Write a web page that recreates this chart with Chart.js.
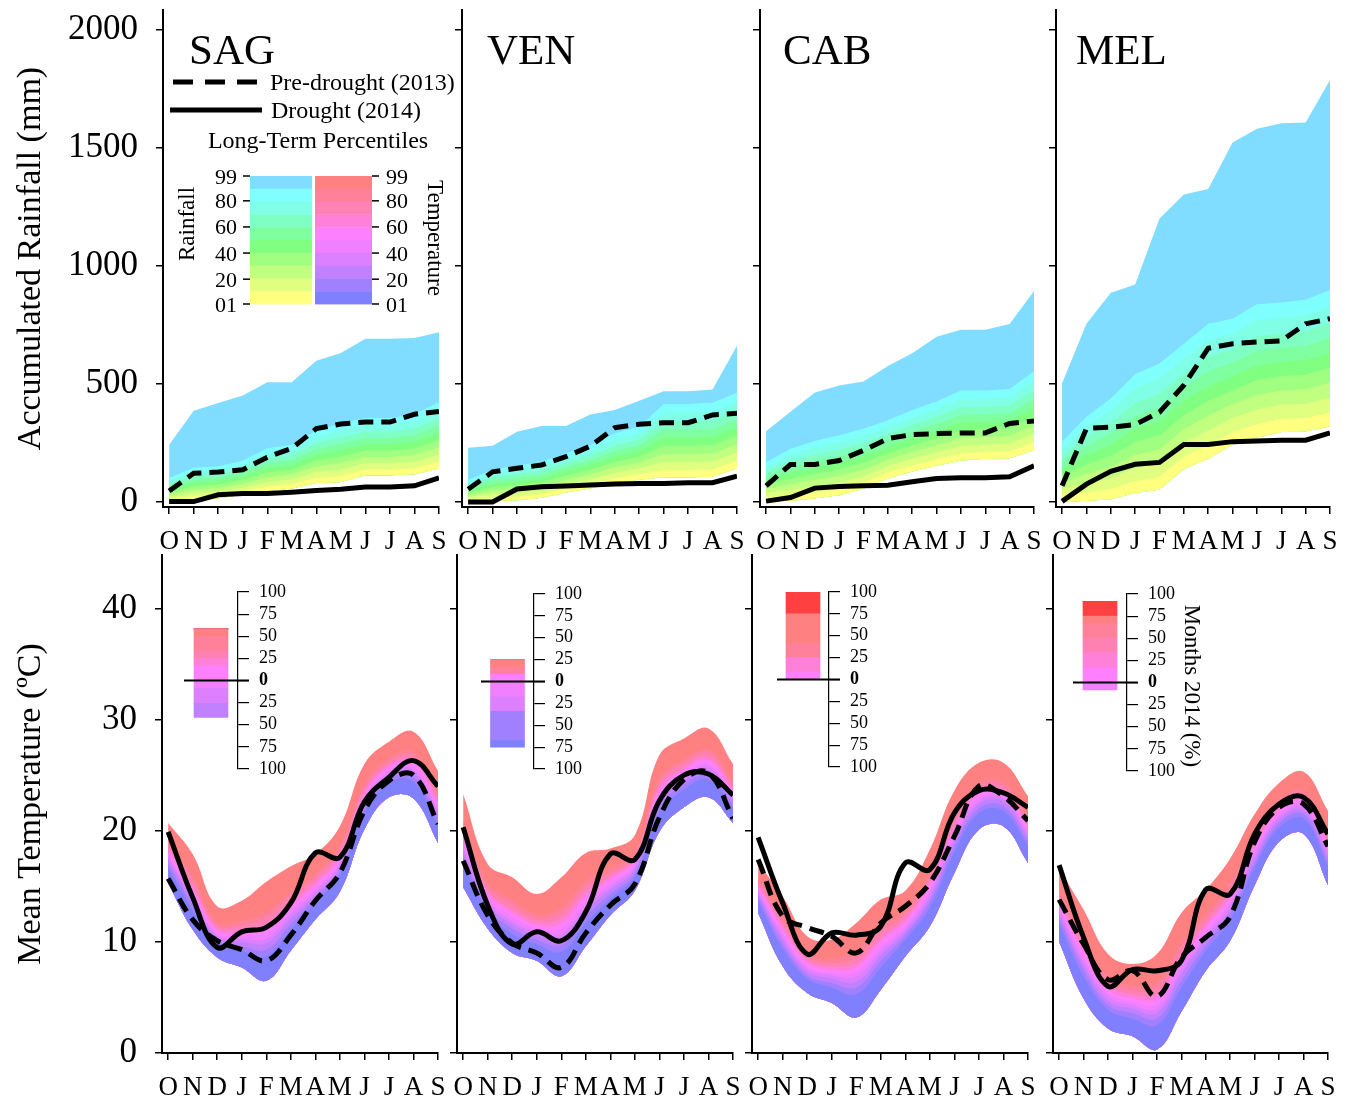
<!DOCTYPE html>
<html>
<head>
<meta charset="utf-8">
<script src="https://cdn.jsdelivr.net/npm/chart.js@4.4.1/dist/chart.umd.min.js"></script>
<style>
  body { margin: 0; background: #fff; width: 1351px; height: 1103px; position: relative; overflow: hidden; }
  canvas { position: absolute; }
  svg { position: absolute; left: 0; top: 0; pointer-events: none; }
</style>
</head>
<body>
<script>
// months of the hydrological year (Oct - Sep)
const months = ['O', 'N', 'D', 'J', 'F', 'M', 'A', 'M', 'J', 'J', 'A', 'S'];
const sites = ['SAG', 'VEN', 'CAB', 'MEL'];
const rainTicks = [0, 500, 1000, 1500, 2000];
const tempTicks = [0, 10, 20, 30, 40];
const pctTicks = ['99', '80', '60', '40', '20', '01'];
const pctTickValues = [99, 80, 60, 40, 20, 1];

// accumulated rainfall (mm) - percentile rows are p01, p10 ... p90, p99
const sagRain2013 = [47, 122, 127, 137, 190, 228, 311, 331, 339, 339, 372, 384];
const sagRain2014 = [2, 2, 31, 36, 36, 42, 49, 54, 64, 64, 69, 102];
const sagRainPct = [
  [0, 8, 16, 31, 47, 57, 81, 85, 114, 114, 118, 142],
  [10, 22, 30, 45, 65, 76, 103, 110, 138, 138, 143, 170],
  [21, 37, 45, 61, 85, 96, 128, 137, 165, 165, 171, 201],
  [33, 52, 60, 77, 105, 117, 152, 165, 191, 191, 199, 232],
  [44, 67, 74, 93, 125, 137, 176, 192, 218, 218, 227, 263],
  [55, 82, 89, 109, 145, 157, 201, 219, 245, 245, 255, 294],
  [66, 97, 104, 125, 165, 178, 225, 247, 271, 271, 283, 325],
  [78, 112, 119, 140, 185, 198, 250, 274, 298, 298, 311, 356],
  [90, 129, 136, 158, 206, 221, 276, 304, 327, 327, 342, 390],
  [102, 145, 152, 175, 228, 243, 303, 334, 356, 356, 372, 424],
  [243, 387, 420, 452, 508, 508, 599, 632, 692, 692, 695, 720]
];
const venRain2013 = [54, 128, 143, 157, 192, 237, 315, 330, 336, 336, 369, 376];
const venRain2014 = [0, 0, 55, 65, 68, 72, 76, 79, 79, 82, 82, 110];
const venRainPct = [
  [0, 5, 8, 18, 40, 58, 79, 96, 105, 105, 107, 143],
  [9, 18, 23, 33, 57, 76, 100, 118, 136, 136, 138, 175],
  [20, 33, 39, 50, 75, 96, 124, 143, 170, 170, 173, 210],
  [30, 48, 55, 67, 93, 117, 147, 167, 204, 204, 207, 245],
  [40, 62, 71, 84, 111, 137, 170, 192, 238, 238, 242, 281],
  [50, 77, 87, 101, 130, 157, 193, 216, 272, 272, 277, 316],
  [60, 91, 103, 117, 148, 177, 217, 241, 307, 307, 311, 351],
  [71, 106, 119, 134, 166, 197, 240, 265, 341, 341, 346, 386],
  [82, 122, 136, 153, 186, 219, 266, 292, 378, 378, 383, 425],
  [93, 138, 154, 171, 206, 241, 291, 319, 415, 415, 421, 463],
  [230, 239, 298, 322, 322, 371, 390, 429, 470, 470, 477, 662]
];
const cabRain2013 = [69, 159, 159, 176, 219, 269, 286, 290, 293, 293, 333, 344];
const cabRain2014 = [4, 19, 59, 66, 69, 71, 86, 100, 103, 103, 107, 154];
const cabRainPct = [
  [4, 4, 16, 29, 57, 100, 129, 154, 176, 183, 186, 219],
  [21, 26, 40, 54, 82, 125, 155, 181, 206, 212, 215, 253],
  [39, 51, 67, 82, 110, 152, 184, 211, 238, 244, 248, 289],
  [57, 75, 94, 110, 138, 179, 213, 241, 271, 276, 280, 326],
  [75, 99, 120, 138, 166, 206, 241, 271, 304, 308, 312, 363],
  [93, 124, 147, 166, 194, 233, 270, 301, 336, 340, 344, 400],
  [111, 148, 174, 194, 222, 261, 299, 331, 369, 372, 376, 437],
  [129, 173, 201, 222, 250, 288, 327, 361, 402, 403, 409, 474],
  [149, 199, 230, 253, 281, 317, 359, 393, 437, 438, 444, 514],
  [169, 226, 259, 283, 311, 347, 390, 426, 473, 473, 479, 554],
  [300, 383, 464, 494, 511, 576, 630, 700, 730, 730, 754, 894]
];
const melRain2013 = [69, 312, 317, 328, 381, 495, 652, 671, 678, 683, 755, 777];
const melRain2014 = [3, 76, 130, 160, 168, 244, 244, 256, 259, 262, 262, 293];
const melRainPct = [
  [0, 5, 12, 38, 53, 140, 183, 244, 274, 297, 300, 320],
  [26, 41, 55, 88, 106, 193, 240, 297, 330, 352, 356, 378],
  [54, 80, 102, 144, 165, 252, 303, 356, 392, 412, 417, 442],
  [82, 120, 149, 199, 224, 310, 366, 415, 454, 473, 478, 505],
  [110, 159, 196, 254, 283, 368, 429, 473, 517, 533, 540, 569],
  [138, 198, 243, 310, 341, 427, 492, 532, 579, 593, 601, 633],
  [166, 238, 290, 365, 400, 485, 555, 590, 641, 654, 662, 696],
  [195, 277, 337, 420, 459, 544, 618, 649, 703, 714, 723, 760],
  [225, 320, 388, 481, 523, 607, 686, 713, 770, 780, 790, 830],
  [256, 363, 439, 541, 587, 671, 755, 777, 838, 846, 857, 899],
  [503, 755, 887, 922, 1201, 1303, 1326, 1524, 1582, 1605, 1608, 1788]
];

// mean temperature (degC)
const sagTemp2013 = [15.7, 12.0, 10.1, 9.3, 8.3, 10.6, 13.7, 16.2, 21.8, 24.5, 25.0, 20.6];
const sagTemp2014 = [19.9, 14.0, 9.5, 10.9, 11.3, 13.5, 18.0, 17.6, 22.6, 24.8, 26.3, 24.0];
const sagTempPct = [
  [15.3, 11.1, 8.6, 7.7, 6.5, 9.2, 12.0, 14.5, 20.1, 23.0, 22.9, 18.9],
  [16.7, 12.8, 9.8, 9.2, 8.7, 11.1, 13.5, 16.0, 21.6, 24.3, 24.4, 20.5],
  [17.0, 13.3, 10.1, 9.6, 9.3, 11.6, 13.9, 16.4, 22.0, 24.6, 24.8, 21.0],
  [17.4, 13.7, 10.4, 10.0, 9.9, 12.1, 14.2, 16.7, 22.3, 24.9, 25.2, 21.4],
  [17.6, 14.0, 10.6, 10.3, 10.3, 12.5, 14.5, 17.0, 22.6, 25.2, 25.5, 21.7],
  [17.9, 14.4, 10.8, 10.6, 10.8, 12.8, 14.8, 17.3, 22.9, 25.4, 25.8, 22.0],
  [18.2, 14.7, 11.0, 10.9, 11.2, 13.2, 15.1, 17.6, 23.2, 25.7, 26.1, 22.3],
  [18.4, 15.0, 11.3, 11.2, 11.7, 13.6, 15.4, 17.9, 23.5, 25.9, 26.4, 22.7],
  [18.8, 15.5, 11.5, 11.5, 12.2, 14.1, 15.8, 18.3, 23.9, 26.2, 26.7, 23.1],
  [19.1, 15.9, 11.8, 11.9, 12.7, 14.5, 16.1, 18.6, 24.2, 26.5, 27.1, 23.5],
  [20.7, 17.9, 13.2, 13.7, 15.4, 16.8, 17.9, 20.4, 26.0, 28.0, 28.9, 25.4]
];
const venTemp2013 = [17.3, 12.4, 9.9, 9.0, 7.7, 10.8, 13.3, 15.2, 21.2, 24.6, 25.2, 21.1];
const venTemp2014 = [20.3, 13.3, 9.8, 10.9, 10.1, 12.7, 17.9, 17.4, 22.7, 25.0, 25.1, 23.2];
const venTempPct = [
  [14.9, 11.2, 9.0, 8.3, 6.9, 9.6, 12.4, 14.6, 19.9, 22.1, 23.0, 20.7],
  [17.0, 12.7, 10.7, 9.8, 9.1, 11.7, 13.9, 15.9, 21.6, 23.7, 24.6, 22.0],
  [17.6, 13.1, 11.2, 10.2, 9.7, 12.3, 14.3, 16.2, 22.1, 24.1, 25.0, 22.4],
  [18.1, 13.4, 11.6, 10.6, 10.3, 12.8, 14.7, 16.5, 22.5, 24.5, 25.4, 22.7],
  [18.5, 13.7, 11.9, 10.9, 10.7, 13.2, 15.0, 16.8, 22.9, 24.8, 25.7, 23.0],
  [18.9, 14.0, 12.3, 11.2, 11.2, 13.6, 15.3, 17.0, 23.2, 25.1, 26.0, 23.2],
  [19.4, 14.3, 12.6, 11.5, 11.6, 14.1, 15.6, 17.3, 23.6, 25.4, 26.3, 23.5],
  [19.8, 14.6, 12.9, 11.8, 12.1, 14.5, 15.9, 17.5, 23.9, 25.7, 26.6, 23.8],
  [20.3, 14.9, 13.4, 12.1, 12.6, 15.0, 16.2, 17.8, 24.3, 26.1, 27.0, 24.1],
  [20.8, 15.3, 13.8, 12.5, 13.1, 15.5, 16.6, 18.1, 24.7, 26.4, 27.3, 24.4],
  [23.3, 17.0, 15.8, 14.3, 15.8, 18.0, 18.4, 19.6, 26.8, 28.3, 29.2, 26.0]
];
const cabTemp2013 = [17.4, 12.3, 11.3, 10.5, 9.0, 11.7, 13.2, 15.3, 19.5, 24.0, 23.1, 20.9];
const cabTemp2014 = [19.4, 13.5, 8.9, 10.8, 10.6, 11.4, 17.1, 16.5, 21.6, 23.6, 23.4, 22.1];
const cabTempPct = [
  [12.6, 7.8, 5.4, 4.5, 3.2, 5.7, 8.7, 11.4, 16.2, 20.1, 20.4, 17.1],
  [13.7, 9.4, 6.7, 5.9, 5.3, 7.7, 10.2, 13.1, 18.1, 21.6, 21.8, 18.6],
  [14.0, 9.8, 7.0, 6.3, 5.9, 8.3, 10.6, 13.6, 18.6, 22.0, 22.2, 19.0],
  [14.3, 10.2, 7.3, 6.7, 6.4, 8.8, 10.9, 14.0, 19.0, 22.4, 22.6, 19.4],
  [14.5, 10.5, 7.6, 7.0, 6.9, 9.2, 11.2, 14.4, 19.4, 22.7, 22.9, 19.7],
  [14.8, 10.8, 7.8, 7.2, 7.3, 9.6, 11.5, 14.7, 19.8, 23.0, 23.1, 20.0],
  [15.0, 11.1, 8.1, 7.5, 7.7, 10.0, 11.8, 15.1, 20.1, 23.3, 23.4, 20.3],
  [15.2, 11.5, 8.4, 7.8, 8.1, 10.4, 12.1, 15.4, 20.5, 23.6, 23.7, 20.6],
  [15.5, 11.8, 8.7, 8.1, 8.6, 10.9, 12.5, 15.8, 20.9, 23.9, 24.0, 20.9],
  [15.8, 12.2, 9.0, 8.5, 9.2, 11.4, 12.8, 16.2, 21.4, 24.3, 24.4, 21.3],
  [17.1, 14.1, 10.5, 10.2, 11.7, 13.8, 14.6, 18.3, 23.6, 26.1, 26.1, 23.1]
];
const melTemp2013 = [13.8, 9.8, 6.6, 7.4, 5.1, 8.6, 10.4, 12.3, 19.0, 22.1, 22.4, 18.6];
const melTemp2014 = [16.9, 10.4, 6.0, 7.5, 7.4, 8.3, 14.7, 14.3, 19.7, 22.4, 23.0, 19.7];
const melTempPct = [
  [10.0, 4.9, 2.2, 1.5, 0.3, 3.7, 7.4, 10.1, 15.1, 19.0, 19.7, 15.1],
  [11.7, 6.9, 3.9, 3.1, 2.5, 5.9, 9.2, 12.0, 16.7, 20.3, 21.1, 16.8],
  [12.1, 7.5, 4.3, 3.6, 3.1, 6.5, 9.7, 12.5, 17.1, 20.7, 21.5, 17.2],
  [12.5, 7.9, 4.7, 4.0, 3.6, 7.1, 10.2, 12.9, 17.5, 21.0, 21.8, 17.6],
  [12.8, 8.3, 5.1, 4.3, 4.0, 7.5, 10.5, 13.3, 17.9, 21.3, 22.1, 18.0],
  [13.2, 8.7, 5.4, 4.6, 4.4, 8.0, 10.9, 13.7, 18.2, 21.5, 22.4, 18.3],
  [13.5, 9.1, 5.8, 4.9, 4.9, 8.4, 11.3, 14.0, 18.5, 21.8, 22.7, 18.7],
  [13.8, 9.5, 6.1, 5.3, 5.3, 8.9, 11.6, 14.4, 18.8, 22.1, 22.9, 19.0],
  [14.2, 10.0, 6.5, 5.7, 5.8, 9.4, 12.1, 14.8, 19.2, 22.4, 23.3, 19.4],
  [14.6, 10.5, 6.9, 6.1, 6.3, 9.9, 12.5, 15.3, 19.6, 22.7, 23.6, 19.8],
  [16.6, 12.9, 8.9, 8.0, 8.9, 12.6, 14.7, 17.5, 21.5, 24.3, 25.3, 21.8]
];

// % of months in 2014 per temperature percentile band
// warm: p50-60, p60-70, p70-80, p80-90, p90-99, >p99 ; cool: p40-50, p30-40, p20-30, p10-20, p01-10, <p01
const sagWarm = [16.7, 8.3, 8.3, 16.7, 8.3, 0];
const sagCool = [8.3, 16.7, 16.7, 0, 0, 0];
const venWarm = [8.3, 0, 0, 8.3, 8.3, 0];
const venCool = [16.7, 16.7, 0, 33.3, 8.3, 0];
const cabWarm = [8.3, 16.7, 0, 16.7, 33.3, 25.0];
const cabCool = [0, 0, 0, 0, 0, 0];
const melWarm = [16.7, 16.7, 16.7, 16.7, 8.3, 16.7];
const melCool = [8.3, 0, 0, 0, 0, 0];

// band colours (bottom band first)
const rainColors = ['#FFFF80', '#E0FF80', '#C0FF80', '#A0FF80', '#80FF80', '#80FFA0', '#80FFC4', '#80FFE6', '#80FFFF', '#80DDFF'];
const tempColors = ['#8080FF', '#A080FF', '#C080FF', '#DC80FF', '#F080FF', '#FF80FF', '#FF80D9', '#FF80B3', '#FF8099', '#FF8080'];
const warmColors = ['#FF80FF', '#FF80D9', '#FF80B3', '#FF8099', '#FF8080', '#FF4040'];
const coolColors = ['#F080FF', '#DC80FF', '#C080FF', '#A080FF', '#8080FF', '#4040FF'];

Chart.defaults.font.family = "'Liberation Serif', 'Times New Roman', serif";
Chart.defaults.color = '#000';

const pts = arr => arr.map((v, i) => ({ x: i, y: v }));

function panel(p) {
  const L = p.first ? 0 : p.ax0 - 20;
  const T = p.ay0 - 10;
  const W = p.ax1 - L + 14;
  const H = p.ay1 - T + p.xH;
  const c = document.createElement('canvas');
  c.width = W; c.height = H;
  c.style.left = L + 'px'; c.style.top = T + 'px';
  document.body.appendChild(c);

  const datasets = [
    { data: pts(p.y2013), borderColor: '#000', borderWidth: 5, borderDash: [15, 8], pointRadius: 0, fill: false, order: 0, tension: p.tension },
    { data: pts(p.y2014), borderColor: '#000', borderWidth: 5, pointRadius: 0, fill: false, order: 0, tension: p.tension }
  ];
  p.pct.forEach((row, k) => {
    datasets.push({
      data: pts(row), borderWidth: 0, pointRadius: 0, order: 1, tension: p.tension,
      fill: k === 0 ? false : 2,
      backgroundColor: k === 0 ? 'rgba(0,0,0,0)' : p.colors[k - 1]
    });
  });

  new Chart(c, {
    type: 'line',
    data: { datasets },
    options: {
      responsive: false, animation: false, devicePixelRatio: 1,
      layout: { padding: { top: 10, right: 14, left: 0, bottom: 0 } },
      plugins: { legend: { display: false }, tooltip: { enabled: false } },
      scales: {
        x: {
          type: 'linear', min: -0.25, max: 11,
          afterBuildTicks: s => { s.ticks = months.map((m, i) => ({ value: i })); },
          afterFit: s => { s.height = p.xH; s.paddingLeft = 0; s.paddingRight = 0; },
          ticks: { callback: v => months[v], font: { size: 27 }, color: '#000', padding: 12, autoSkip: false, maxRotation: 0, minRotation: 0 },
          grid: { drawOnChartArea: false, drawTicks: true, tickLength: 7, color: '#000', lineWidth: 1.5 },
          border: { display: true, color: '#000', width: 2 }
        },
        y: {
          min: p.yMin, max: p.yMax,
          afterBuildTicks: s => { s.ticks = p.yTicks.map(v => ({ value: v })); },
          afterFit: s => { s.width = p.first ? p.ax0 : 20; s.paddingTop = 0; s.paddingBottom = 0; },
          ticks: { display: p.first, callback: v => String(v), font: { size: 35 }, color: '#000', padding: 18, autoSkip: false },
          grid: { drawOnChartArea: false, drawTicks: true, tickLength: 7, color: '#000', lineWidth: 1.5 },
          border: { display: true, color: '#000', width: 2 },
          title: { display: p.first, text: p.yTitle, font: { size: 34 }, color: '#000', padding: { top: 11, bottom: 0 } }
        }
      }
    }
  });
}

function inset(b, warm, cool) {
  const axW = 66;
  const L = b[0], T = b[2] - 12;
  const W = b[1] - L + axW, H = b[3] - T + 12;
  const c = document.createElement('canvas');
  c.width = W; c.height = H;
  c.style.left = L + 'px'; c.style.top = T + 'px';
  document.body.appendChild(c);
  const datasets = warm.map((v, k) => ({ data: [v], backgroundColor: warmColors[k] }))
    .concat(cool.map((v, k) => ({ data: [-v], backgroundColor: coolColors[k] })));
  datasets.forEach(d => { d.barThickness = 34; d.borderWidth = 0; d.stack = 's'; });
  const zeroLine = {
    id: 'zeroLine',
    afterDatasetsDraw(chart) {
      const { ctx, chartArea: a, scales } = chart;
      const py = scales.y.getPixelForValue(0);
      ctx.save();
      ctx.strokeStyle = '#000'; ctx.lineWidth = 2;
      ctx.beginPath(); ctx.moveTo(a.left, py); ctx.lineTo(a.right + 11, py); ctx.stroke();
      ctx.restore();
    }
  };
  new Chart(c, {
    type: 'bar',
    data: { labels: ['2014'], datasets },
    plugins: [zeroLine],
    options: {
      responsive: false, animation: false, devicePixelRatio: 1,
      layout: { padding: { top: 12, bottom: 12, left: 0, right: 0 } },
      plugins: { legend: { display: false }, tooltip: { enabled: false } },
      scales: {
        x: { display: false, stacked: true },
        y: {
          stacked: true, position: 'right', min: -100, max: 100,
          afterFit: s => { s.width = axW; s.paddingTop = 0; s.paddingBottom = 0; },
          ticks: {
            stepSize: 25, padding: 10, color: '#000', autoSkip: false,
            callback: v => String(Math.abs(v)),
            font: ctx => ({ size: 18, weight: ctx.tick && ctx.tick.value === 0 ? 'bold' : 'normal' })
          },
          grid: { drawOnChartArea: false, drawTicks: true, tickLength: 11, color: '#000', lineWidth: 1.2 },
          border: { display: true, color: '#000', width: 1.2 }
        }
      }
    }
  });
}

const topBoxes = [[163, 439], [462, 737], [760, 1034], [1056, 1330]];
const botBoxes = [[162, 438], [457, 733], [752, 1028], [1053, 1328]];
const insetBoxes = [[184, 238, 592, 769], [481, 534, 594, 769], [777, 829, 592, 767], [1073, 1127, 594, 771]];

const rainSets = [[sagRain2013, sagRain2014, sagRainPct], [venRain2013, venRain2014, venRainPct], [cabRain2013, cabRain2014, cabRainPct], [melRain2013, melRain2014, melRainPct]];
const tempSets = [[sagTemp2013, sagTemp2014, sagTempPct], [venTemp2013, venTemp2014, venTempPct], [cabTemp2013, cabTemp2014, cabTempPct], [melTemp2013, melTemp2014, melTempPct]];
const insetSets = [[sagWarm, sagCool], [venWarm, venCool], [cabWarm, cabCool], [melWarm, melCool]];

rainSets.forEach((d, i) => panel({
  ax0: topBoxes[i][0], ax1: topBoxes[i][1], ay0: 10, ay1: 507, xH: 60, first: i === 0,
  yMin: -21, yMax: 2085, yTicks: rainTicks, yTitle: 'Accumulated Rainfall (mm)',
  y2013: d[0], y2014: d[1], pct: d[2], colors: rainColors, tension: 0
}));
tempSets.forEach((d, i) => panel({
  ax0: botBoxes[i][0], ax1: botBoxes[i][1], ay0: 555, ay1: 1053, xH: 50, first: i === 0,
  yMin: 0, yMax: 44.8, yTicks: tempTicks, yTitle: 'Mean Temperature (ºC)',
  y2013: d[0], y2014: d[1], pct: d[2], colors: tempColors, tension: 0.4
}));
insetSets.forEach((d, i) => inset(insetBoxes[i], d[0], d[1]));

// titles and legends
const F = "font-family=\"'Liberation Serif', 'Times New Roman', serif\"";
let s = '';
[189, 487, 783, 1076].forEach((x, i) => { s += `<text x="${x}" y="64" font-size="43">${sites[i]}</text>`; });
s += '<line x1="173" y1="82" x2="260" y2="82" stroke="#000" stroke-width="5" stroke-dasharray="20 12"/>';
s += '<text x="270" y="90" font-size="24">Pre-drought (2013)</text>';
s += '<line x1="170" y1="110" x2="262" y2="110" stroke="#000" stroke-width="5"/>';
s += '<text x="271" y="118" font-size="24">Drought (2014)</text>';
s += '<text x="318" y="148" font-size="24" text-anchor="middle">Long-Term Percentiles</text>';
for (let i = 0; i < 10; i++) {
  const y = 176 + i * 12.8;
  s += `<rect x="250" y="${y}" width="62" height="13.2" fill="${rainColors[9 - i]}"/>`;
  s += `<rect x="315" y="${y}" width="57" height="13.2" fill="${tempColors[9 - i]}"/>`;
}
pctTickValues.forEach((v, i) => {
  const y = 304 - (v - 1) * 128 / 98;
  s += `<line x1="243" y1="${y}" x2="250" y2="${y}" stroke="#000" stroke-width="1.5"/>`;
  s += `<line x1="372" y1="${y}" x2="379" y2="${y}" stroke="#000" stroke-width="1.5"/>`;
  s += `<text x="237" y="${y + 7.5}" font-size="22" text-anchor="end">${pctTicks[i]}</text>`;
  s += `<text x="386" y="${y + 7.5}" font-size="22">${pctTicks[i]}</text>`;
});
s += '<text x="186" y="224" font-size="23" text-anchor="middle" dominant-baseline="central" transform="rotate(-90 186 224)">Rainfall</text>';
s += '<text x="435" y="238" font-size="23" text-anchor="middle" dominant-baseline="central" transform="rotate(90 435 238)">Temperature</text>';
s += '<text x="1192" y="686" font-size="23" text-anchor="middle" dominant-baseline="central" transform="rotate(90 1192 686)">Months 2014 (%)</text>';
document.body.insertAdjacentHTML('beforeend',
  `<svg width="1351" height="1103" ${F} fill="#000">${s}</svg>`);
</script>
</body>
</html>
